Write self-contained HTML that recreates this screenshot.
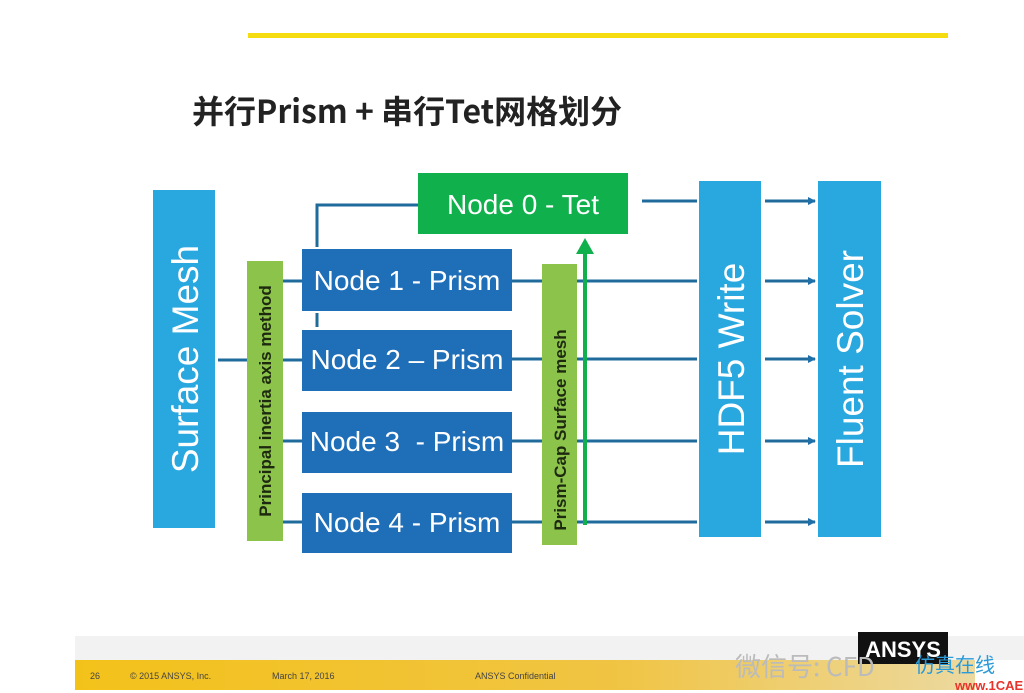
<!DOCTYPE html>
<html><head><meta charset="utf-8"><style>
html,body{margin:0;padding:0;background:#fff;}
svg{display:block;}
</style></head><body>
<svg width="1024" height="693" viewBox="0 0 1024 693" xmlns="http://www.w3.org/2000/svg" font-family="Liberation Sans, 'Noto Sans CJK SC', sans-serif">
<defs>
<linearGradient id="ft" x1="0" y1="0" x2="1" y2="0">
<stop offset="0" stop-color="#f3c21a"/><stop offset="0.6" stop-color="#f0c443"/><stop offset="1" stop-color="#ecd9a0"/>
</linearGradient>
<marker id="ah" markerWidth="8" markerHeight="8" refX="7" refY="4" orient="auto" markerUnits="userSpaceOnUse"><path d="M0,0 L8,4 L0,8 z" fill="#1f6fa8"/></marker>
</defs>
<rect x="248" y="33" width="700" height="5" fill="#f4dc10"/>
<text x="192" y="123" font-size="32" font-weight="bold" fill="#222" font-family="'Noto Sans CJK SC','Liberation Sans',sans-serif">并行Prism + 串行Tet网格划分</text>

<g stroke="#1f6b9c" stroke-width="3" fill="none">
<line x1="218" y1="360" x2="247" y2="360"/>
<line x1="283" y1="281" x2="302" y2="281"/>
<line x1="283" y1="360" x2="302" y2="360"/>
<line x1="283" y1="441" x2="302" y2="441"/>
<line x1="283" y1="522" x2="302" y2="522"/>
<polyline points="317,247 317,205 418,205"/>
<line x1="317" y1="313" x2="317" y2="327"/>
<line x1="642" y1="201" x2="697" y2="201"/>
<line x1="765" y1="201" x2="815" y2="201" marker-end="url(#ah)"/>
<line x1="512" y1="281" x2="697" y2="281"/>
<line x1="512" y1="359" x2="697" y2="359"/>
<line x1="512" y1="441" x2="697" y2="441"/>
<line x1="512" y1="522" x2="697" y2="522"/>
<line x1="765" y1="281" x2="815" y2="281" marker-end="url(#ah)"/>
<line x1="765" y1="359" x2="815" y2="359" marker-end="url(#ah)"/>
<line x1="765" y1="441" x2="815" y2="441" marker-end="url(#ah)"/>
<line x1="765" y1="522" x2="815" y2="522" marker-end="url(#ah)"/>
</g>

<rect x="153" y="190" width="62" height="338" fill="#29a7df"/>
<text transform="translate(198,359) rotate(-90)" text-anchor="middle" font-size="37" fill="#fff">Surface Mesh</text>

<rect x="247" y="261" width="36" height="280" fill="#8cc34a"/>
<text transform="translate(271,401) rotate(-90)" text-anchor="middle" font-size="17" font-weight="bold" fill="#1d2a10">Principal inertia axis method</text>

<rect x="418" y="173" width="210" height="61" fill="#10b04c"/>
<text x="523" y="214" text-anchor="middle" font-size="28" fill="#fff">Node 0 - Tet</text>

<g fill="#1f6eb8">
<rect x="302" y="249" width="210" height="62"/>
<rect x="302" y="330" width="210" height="61"/>
<rect x="302" y="412" width="210" height="61"/>
<rect x="302" y="493" width="210" height="60"/>
</g>
<g fill="#fff" font-size="28" text-anchor="middle">
<text x="407" y="290">Node 1 - Prism</text>
<text x="407" y="369">Node 2 – Prism</text>
<text x="407" y="451">Node 3 &#160;- Prism</text>
<text x="407" y="532">Node 4 - Prism</text>
</g>

<rect x="542" y="264" width="35" height="281" fill="#8cc34a"/>
<text transform="translate(566,430) rotate(-90)" text-anchor="middle" font-size="17" font-weight="bold" fill="#1d2a10">Prism-Cap Surface mesh</text>

<line x1="585" y1="525" x2="585" y2="252" stroke="#10b04c" stroke-width="4"/>
<path d="M576,254 L585,238 L594,254 z" fill="#10b04c"/>

<rect x="699" y="181" width="62" height="356" fill="#29a7df"/>
<text transform="translate(744,359) rotate(-90)" text-anchor="middle" font-size="37" fill="#fff">HDF5 Write</text>
<rect x="818" y="181" width="63" height="356" fill="#29a7df"/>
<text transform="translate(863,359) rotate(-90)" text-anchor="middle" font-size="37" fill="#fff">Fluent Solver</text>

<rect x="75" y="636" width="949" height="24" fill="#f2f2f2"/>
<rect x="75" y="660" width="900" height="30" fill="url(#ft)"/>
<g font-size="9" fill="#444">
<text x="90" y="679">26</text>
<text x="130" y="679">© 2015 ANSYS, Inc.</text>
<text x="272" y="679">March 17, 2016</text>
<text x="475" y="679">ANSYS Confidential</text>
</g>
<rect x="858" y="632" width="90" height="32" fill="#111"/>
<text x="903" y="657" text-anchor="middle" font-size="22" font-weight="bold" fill="#fff">ANSYS</text>
<text x="735" y="676" font-size="26" fill="#bbb" font-family="'Noto Sans CJK SC',sans-serif">微信号: CFD</text>
<text x="915" y="672" font-size="20" fill="#2a9ad8" font-family="'Noto Sans CJK SC',sans-serif">仿真在线</text>
<text x="955" y="690" font-size="13" font-weight="bold" fill="#e8322a">www.1CAE.com</text>
</svg>
</body></html>
